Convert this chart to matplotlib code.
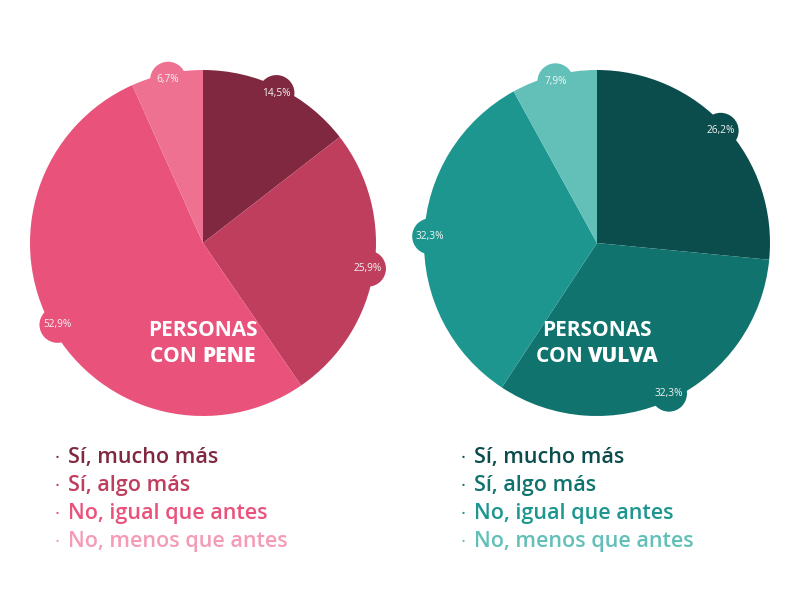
import numpy as np
import matplotlib.pyplot as plt
from matplotlib.patches import Circle

plt.rcParams['font.family'] = ['Open Sans', 'DejaVu Sans']

# data
categorias = ['Sí, mucho más', 'Sí, algo más', 'No, igual que antes', 'No, menos que antes']
pene = [14.5, 25.9, 52.9, 6.7]
vulva = [26.2, 32.3, 32.3, 7.9]
etiquetas_pene = ['14,5%', '25,9%', '52,9%', '6,7%']
etiquetas_vulva = ['26,2%', '32,3%', '32,3%', '7,9%']
titulos = [('PERSONAS', 'CON', 'PENE'), ('PERSONAS', 'CON', 'VULVA')]

col_pene = ['#7f2840', '#bf3d5d', '#e9527b', '#ef7192']
ley_pene = ['#7f2840', '#bf3d5d', '#e9527b', '#f49bb6']
col_vulva = ['#0b4d4c', '#10736e', '#1e9690', '#62c0b8']
ley_vulva = ['#0b4d4c', '#10736e', '#1e9690', '#62c0b8']

fig = plt.figure(figsize=(8, 6), dpi=100)
ax = fig.add_axes([0, 0, 1, 1])
ax.set_xlim(0, 800)
ax.set_ylim(0, 600)
ax.set_aspect('equal')
ax.axis('off')

R = 173
# (pie center x, pie center y, legend x, ...)
paneles = [(203, 357, 57, pene, etiquetas_pene, col_pene, ley_pene, titulos[0]),
           (597, 357, 463, vulva, etiquetas_vulva, col_vulva, ley_vulva, titulos[1])]

fig.canvas.draw()
rend = fig.canvas.get_renderer()

for cx, cy, lx, vals, labs, cols, ley, tit in paneles:
    ax.pie(vals, colors=cols, startangle=90, counterclock=False,
           center=(cx, cy), radius=R, frame=True,
           wedgeprops=dict(linewidth=0))
    # bubbles with the value
    total = sum(vals)
    ang = 90.0
    for v, lab, c in zip(vals, labs, cols):
        span = v / total * 360
        mid = np.deg2rad(ang - span / 2)
        bx = cx + 0.965 * R * np.cos(mid)
        by = cy + 0.965 * R * np.sin(mid)
        ax.add_patch(Circle((bx, by), 18, color=c, lw=0, zorder=3))
        ax.text(bx, by, lab, color='#f4f4f4', fontsize=7.3, ha='center',
                va='center', zorder=4)
        ang -= span
    # center title
    ax.text(cx, cy - 87, tit[0], color='white', fontsize=15,
            fontweight='bold', ha='center', va='center')
    t1 = ax.text(0, 0, tit[1] + ' ', color='white', fontsize=15,
                 fontweight='bold', ha='left', va='center')
    t2 = ax.text(0, 0, tit[2], color='white', fontsize=15,
                 fontweight='extra bold', ha='left', va='center')
    w1 = t1.get_window_extent(rend).width
    w2 = t2.get_window_extent(rend).width
    x0 = cx - (w1 + w2) / 2
    t1.set_position((x0, cy - 114))
    t2.set_position((x0 + w1, cy - 114))
    # legend
    for i, (cat, c) in enumerate(zip(categorias, ley)):
        y = 600 - 458 - 28 * i
        ax.text(lx, y, '·', color=c, fontsize=14, ha='center', va='center')
        ax.text(lx + 11, y, cat, color=c, fontsize=15.5, fontweight='semibold',
                ha='left', va='center')

ax.set_xlim(0, 800)
ax.set_ylim(0, 600)
fig.savefig('out.png', dpi=100)
